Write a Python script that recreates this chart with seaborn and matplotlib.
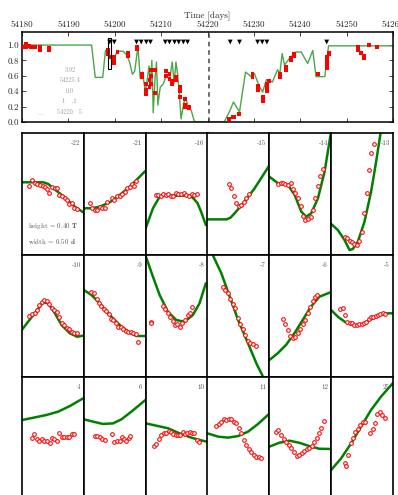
import matplotlib
matplotlib.use("Agg")
import matplotlib.pyplot as plt
from matplotlib.patches import Rectangle
import seaborn as sns

sns.set_style("white")
plt.rcParams["font.family"] = ["cmr10", "DejaVu Serif"]
plt.rcParams["mathtext.fontset"] = "cm"
plt.rcParams["axes.unicode_minus"] = False
plt.rcParams["axes.formatter.use_mathtext"] = True

# ---- light curve (top panel) ----
model_t = [54180.0, 54195.0, 54195.8, 54197.4, 54198.0, 54199.0, 54199.6, 54200.5,
           54201.8, 54202.5, 54203.2, 54203.8, 54204.3, 54205.0, 54205.5, 54206.0,
           54206.6, 54207.0, 54207.4, 54207.7, 54208.0, 54208.3, 54208.7, 54209.0,
           54209.3, 54209.8, 54210.5, 54211.2, 54211.8, 54212.4, 54212.8, 54213.2,
           54213.6, 54214.0, 54214.3, 54214.9, 54215.3, 54215.8, 54216.5, 54217.2,
           54223.6, 54224.7, 54225.6, 54226.9, 54228.2, 54229.4, 54230.1, 54231.2,
           54231.9, 54232.7, 54234.0, 54235.1, 54235.6, 54236.1, 54236.6, 54237.7,
           54239.1, 54240.2, 54241.6, 54242.7, 54243.4, 54245.3, 54246.1, 54260.0]
model_f = [1.0, 1.0, 0.58, 0.58, 0.93, 0.85, 0.78, 0.92,
           0.92, 0.88, 0.78, 0.62, 0.66, 0.98, 0.57, 0.65,
           0.38, 0.55, 0.73, 0.45, 0.80, 0.12, 0.58, 0.78,
           0.22, 0.45, 0.50, 0.62, 0.55, 0.78, 0.50, 0.78,
           0.60, 0.30, 0.04, 0.25, 0.32, 0.20, 0.15, 0.0,
           0.0, 0.13, 0.26, 0.13, 0.65, 0.59, 0.63, 0.46,
           0.39, 0.55, 0.52, 0.68, 0.63, 0.89, 0.74, 0.83,
           0.91, 0.91, 0.76, 0.93, 0.59, 0.59, 0.99, 0.99]

obs_t = [54180.2, 54180.9, 54180.9, 54181.5, 54182.0, 54182.8, 54183.9, 54183.9, 54185.9, 54185.9,
         54198.6, 54198.6, 54199.2, 54199.9, 54199.9, 54199.9, 54200.6, 54202.8, 54202.8,
         54204.8, 54204.8, 54205.8, 54205.8, 54206.8, 54206.8, 54206.8, 54207.5, 54207.5,
         54207.9, 54207.9, 54207.9, 54208.6, 54208.6, 54211.0, 54211.0, 54211.8, 54211.8,
         54212.4, 54212.4, 54213.3, 54213.3, 54214.0, 54214.0, 54214.0, 54215.1, 54215.1,
         54215.1, 54216.0, 54216.0, 54224.7, 54225.4, 54225.8, 54226.8, 54229.7, 54229.7,
         54230.8, 54230.8, 54231.9, 54231.9, 54232.8, 54232.8, 54232.8, 54233.2, 54235.7,
         54235.7, 54236.9, 54236.9, 54238.0, 54238.0, 54238.7, 54238.7, 54243.8, 54245.8,
         54245.8, 54245.8, 54245.8, 54246.1, 54246.1, 54252.5, 54252.5, 54253.0, 54253.7,
         54253.7, 54254.8, 54256.6]
obs_f = [0.98, 1.02, 0.97, 0.99, 0.97, 0.97, 0.97, 0.94, 0.96, 0.93,
         0.93, 0.88, 0.85, 0.80, 0.77, 0.84, 0.91, 0.90, 0.86,
         0.97, 0.95, 0.63, 0.58, 0.50, 0.42, 0.37, 0.55, 0.45,
         0.68, 0.60, 0.50, 0.68, 0.38, 0.66, 0.60, 0.63, 0.56,
         0.53, 0.50, 0.58, 0.55, 0.46, 0.40, 0.32, 0.30, 0.22,
         0.20, 0.18, 0.20, 0.04, 0.07, 0.06, 0.11, 0.62, 0.58,
         0.47, 0.42, 0.33, 0.27, 0.45, 0.40, 0.50, 0.53, 0.59,
         0.62, 0.68, 0.72, 0.80, 0.83, 0.86, 0.88, 0.63, 0.80,
         0.75, 0.70, 0.85, 0.90, 0.88, 0.97, 0.93, 0.90, 0.86,
         0.83, 1.00, 0.98]

alert_t = [54198.9, 54199.9, 54204.7, 54205.7, 54206.8, 54207.7, 54210.9, 54211.8,
           54212.9, 54213.8, 54214.8, 54215.7, 54224.9, 54226.9, 54230.8, 54231.8,
           54232.8, 54245.7]
alert_level = 1.04

box_t = [54198.6, 54199.2]
box_f = [0.69, 1.09]
peak_t = 54220.4

time_ticks = [54180, 54190, 54200, 54210, 54220, 54230, 54240, 54250, 54260]
flux_ticks = [0.0, 0.2, 0.4, 0.6, 0.8, 1.0]
fit_notes = ["3.92", "54225.4", "0.0", "1   .1", "54220.  5"]
fit_note_f = [0.67, 0.54, 0.40, 0.27, 0.13]

# ---- zoomed segments (local units 0-100) ----
labels = ["-22", "-21", "-16", "-15", "-14", "-13",
          "-10", "-9", "-8", "-7", "-6", "-5",
          "4", "6", "10", "11", "12", "25"]

line_m22 = [(0.5, 59.6), (34.4, 59.6), (42.5, 58.2), (50.5, 54.6), (61.3, 50.5), (72.0, 45.9), (85.5, 39.6), (98.9, 35.0)]
dots_m22 = [(11.8, 56.6), (16.1, 61.2), (20.4, 58.8), (24.7, 57.9), (29.0, 57.4), (33.3, 56.3), (36.6, 55.5),
            (40.3, 54.1), (44.1, 51.1), (48.4, 55.5), (52.7, 54.6), (57.0, 55.2), (60.2, 49.2), (64.5, 48.6),
            (68.8, 47.0), (72.0, 45.1), (76.3, 42.1), (80.1, 42.9), (83.9, 38.3), (88.2, 37.5)]

line_m21 = [(0, 38.3), (12.4, 38.3), (25.8, 39.6), (41.9, 43.2), (58.1, 49.2), (74.2, 56.0), (87.6, 62.8), (99.5, 68.9)]
dots_m21 = [(9.7, 42.4), (14.0, 38.8), (18.3, 37.1), (21.5, 36.9), (25.8, 39.6), (30.1, 38.3), (34.4, 38.8),
            (37.6, 43.2), (45.2, 46.5), (49.5, 45.1), (53.7, 48.1), (58.1, 48.6), (62.4, 50.2), (66.6, 51.9),
            (69.8, 55.2), (74.2, 55.7), (78.5, 58.0), (81.8, 56.8), (85.0, 60.7)]

line_m16 = [(0, 21.9), (11.8, 38.3), (22.6, 47.8), (30.0, 48.6), (72.0, 48.6), (78.0, 46.0), (84.0, 42.4), (90.0, 35.0), (97.3, 24.6)]
dots_m16 = [(16.1, 49.2), (20.5, 49.2), (24.7, 48.4), (27.9, 49.7), (32.3, 49.2), (36.6, 49.7), (40.8, 48.4),
            (44.1, 48.4), (48.4, 51.1), (52.7, 49.7), (56.9, 49.7), (61.3, 50.5), (65.6, 49.2), (69.8, 48.4),
            (74.2, 49.7), (78.5, 49.2), (82.7, 49.7)]

line_m15 = [(0, 29.2), (30.6, 29.2), (37.0, 30.5), (43.9, 34.2), (60.0, 43.7), (76.1, 54.6), (99.5, 73.0)]
dots_m15 = [(35.0, 58.4), (38.7, 54.6), (42.5, 48.6), (46.8, 42.4), (50.6, 40.4), (54.9, 41.0), (59.2, 43.7),
            (63.0, 47.0), (66.8, 50.0)]

line_m14 = [(0, 64.2), (14.0, 58.8), (30.2, 57.4), (41.0, 49.2), (51.7, 35.5), (59.7, 31.4), (67.8, 34.2),
            (78.6, 46.5), (89.4, 68.3), (99.0, 98.4)]
dots_m14 = [(14.0, 57.9), (18.3, 59.3), (22.1, 59.3), (25.8, 58.2), (30.2, 57.4), (34.5, 58.8), (38.2, 53.9),
            (41.9, 50.5), (46.3, 47.0), (50.6, 40.4), (54.4, 32.2), (58.1, 28.7), (62.4, 29.2), (66.8, 31.1),
            (70.5, 36.9), (74.2, 46.5), (78.6, 56.6), (82.3, 64.8), (86.2, 70.2)]

line_m13 = [(0, 25.4), (10.8, 20.5), (21.6, 12.3), (29.7, 4.1), (35.0, 4.9), (43.1, 10.9), (53.9, 27.3),
            (64.6, 51.9), (72.7, 76.5), (79.8, 99.7)]
dots_m13 = [(22.1, 15.0), (26.4, 14.2), (30.1, 11.5), (33.9, 10.4), (37.7, 9.0), (41.4, 8.2), (45.2, 11.7),
            (49.1, 19.1), (53.3, 34.2), (57.2, 50.5), (60.9, 69.7), (65.2, 83.6), (68.9, 90.7)]

line_m10 = [(0.5, 39.1), (18.2, 50.8), (34.4, 61.2), (42.4, 60.4), (53.2, 52.2), (64.0, 42.6), (77.4, 35.8),
            (89.2, 33.0), (98.9, 33.9)]
dots_m10 = [(11.8, 50.0), (16.1, 51.6), (20.5, 52.7), (24.2, 54.9), (27.9, 58.8), (31.8, 61.7), (35.5, 63.1),
            (40.3, 62.5), (44.0, 59.8), (47.9, 56.3), (51.6, 54.9), (56.0, 53.0), (59.7, 49.4), (64.0, 44.0),
            (68.2, 42.6), (72.1, 40.4), (76.3, 39.1), (80.2, 37.1), (84.4, 36.3), (88.2, 36.3)]

line_m9 = [(0, 71.3), (12.4, 67.2), (25.8, 60.4), (41.9, 50.8), (58.1, 42.6), (74.2, 36.3), (85.0, 33.6), (99.5, 33.6)]
dots_m9 = [(11.3, 69.9), (16.1, 69.1), (20.5, 64.2), (24.2, 60.9), (27.9, 58.2), (32.3, 56.0), (36.6, 54.3),
           (40.3, 51.6), (44.0, 47.8), (47.9, 46.7), (51.6, 44.0), (56.0, 41.2), (59.7, 41.2), (63.4, 39.1),
           (67.7, 37.7), (72.1, 37.1), (76.3, 37.1), (80.2, 35.8), (83.9, 35.0), (88.2, 28.9)]

line_m8 = [(0, 99.2), (11.8, 82.2), (22.6, 67.2), (36.0, 53.5), (49.5, 46.7), (62.9, 45.3), (76.3, 50.8),
           (87.1, 60.4), (97.3, 76.8)]
dots_m8 = [(8.1, 45.3), (8.1, 44.0), (27.9, 58.2), (31.8, 56.0), (36.0, 52.2), (39.8, 49.4), (43.5, 46.2),
           (47.3, 42.6), (51.1, 43.4), (54.8, 40.7), (59.2, 44.0), (63.4, 46.7), (67.7, 50.8), (71.5, 52.2),
           (75.3, 57.1)]

line_m7 = [(9.2, 99.2), (22.4, 85.0), (36.0, 65.8), (49.5, 46.7), (65.6, 27.6), (79.0, 11.2), (89.8, 0.2)]
dots_m7 = [(24.7, 73.5), (28.5, 71.3), (32.8, 69.1), (37.1, 63.7), (41.4, 59.8), (45.2, 56.3), (48.9, 48.1),
           (53.2, 43.4), (57.0, 39.1), (61.3, 34.4), (65.1, 29.5), (69.5, 28.1), (73.2, 27.0), (78.1, 25.7)]

line_m6 = [(0, 13.9), (13.4, 19.4), (26.9, 26.2), (40.5, 35.8), (53.9, 46.7), (67.3, 57.6), (80.9, 65.8), (98.7, 69.4)]
dots_m6 = [(21.5, 47.5), (25.8, 43.2), (29.6, 38.5), (33.9, 33.6), (37.6, 31.7), (41.3, 33.0), (45.6, 35.8),
           (49.4, 39.1), (53.7, 43.2), (57.5, 46.7), (61.8, 52.7), (66.2, 57.1), (69.9, 62.5), (73.6, 65.3),
           (77.4, 67.2)]

line_m5 = [(0, 54.9), (10.8, 49.4), (24.2, 44.5), (37.7, 42.4), (51.1, 43.4), (64.5, 47.3), (78.0, 50.8),
           (91.4, 52.2), (99.5, 52.2)]
dots_m5 = [(14.5, 55.5), (18.4, 56.6), (22.1, 50.8), (26.4, 44.8), (30.2, 44.5), (33.9, 44.3), (37.7, 42.6),
           (41.5, 42.6), (45.2, 43.2), (49.1, 43.2), (52.8, 44.5), (56.5, 45.3), (60.4, 47.5), (64.2, 48.9),
           (67.9, 48.9), (71.8, 50.0), (75.5, 50.5), (79.2, 51.6), (83.1, 52.7), (86.8, 51.4)]

line_p4 = [(0.5, 64.8), (18.2, 66.6), (39.8, 68.9), (58.5, 71.6), (77.4, 76.2), (98.9, 82.5)]
dots_p4 = [(16.1, 50.3), (19.8, 53.0), (24.2, 48.9), (27.9, 47.8), (32.3, 48.9), (35.9, 47.8), (40.3, 47.5),
           (44.7, 45.6), (48.4, 50.3), (52.1, 49.2), (56.5, 47.8), (60.2, 53.8), (64.5, 51.1), (68.2, 50.6),
           (72.1, 50.6), (76.3, 51.1), (80.2, 53.3), (83.9, 53.0)]

line_p6 = [(0, 65.3), (15.0, 63.4), (31.1, 61.5), (47.3, 62.0), (60.8, 65.3), (76.9, 71.6), (99.5, 81.1)]
dots_p6 = [(17.7, 51.9), (21.5, 51.9), (25.8, 51.1), (29.6, 49.4), (33.9, 48.4), (46.3, 53.0), (49.5, 47.0),
           (53.2, 47.8), (58.1, 47.8), (61.8, 50.6), (65.6, 49.2), (68.9, 47.8), (72.6, 49.7), (74.2, 51.6)]

line_p10 = [(0, 62.0), (17.2, 60.1), (36.0, 58.0), (54.8, 53.8), (73.7, 50.3), (87.1, 48.4), (98.9, 47.0)]
dots_p10 = [(13.4, 43.4), (17.2, 45.1), (21.5, 48.9), (25.3, 52.5), (29.6, 53.8), (33.4, 53.8), (37.1, 56.0),
            (40.8, 54.9), (44.7, 53.0), (48.4, 52.2), (52.1, 52.5), (56.0, 52.2), (59.7, 54.6), (63.4, 53.3),
            (67.3, 53.8), (71.0, 55.2), (74.7, 54.3), (78.5, 54.3), (83.4, 48.4), (85.5, 47.0)]

line_p11 = [(0, 53.8), (17.3, 51.1), (33.1, 50.3), (49.5, 51.6), (65.6, 55.2), (81.7, 61.5), (99.5, 69.7)]
dots_p11 = [(14.5, 59.8), (18.4, 61.5), (22.6, 63.4), (26.5, 65.3), (30.7, 64.8), (34.5, 65.3), (38.7, 65.6),
            (42.6, 63.4), (46.8, 62.5), (50.6, 57.9), (54.8, 53.8), (58.7, 48.4), (62.9, 44.3), (66.8, 40.7),
            (71.0, 38.8), (74.8, 36.1), (79.1, 34.7), (82.9, 34.2), (86.6, 33.3)]

line_p12 = [(0, 42.9), (16.1, 46.1), (32.3, 47.8), (48.4, 46.1), (64.5, 43.4), (80.6, 41.2), (98.4, 41.0)]
dots_p12 = [(10.8, 55.2), (14.6, 56.6), (18.8, 52.5), (23.2, 49.2), (26.9, 47.0), (31.3, 44.3), (35.6, 41.6),
            (39.8, 38.8), (44.2, 35.2), (48.6, 36.3), (52.3, 38.0), (56.6, 39.1), (60.8, 40.7), (64.7, 41.8),
            (69.0, 43.4), (72.8, 47.0), (76.6, 50.3), (80.3, 53.8), (84.2, 58.4), (87.9, 64.2)]

line_p25 = [(0, 23.8), (16.1, 33.3), (32.3, 45.6), (48.4, 59.3), (64.5, 73.0), (80.6, 83.9), (99.5, 94.8)]
dots_p25 = [(22.6, 29.3), (23.2, 27.3), (27.4, 36.1), (31.3, 46.1), (35.5, 50.3), (39.3, 54.9), (43.1, 57.1),
            (46.8, 60.7), (50.7, 62.9), (54.4, 63.4), (63.6, 54.3), (67.3, 57.4), (71.1, 62.5), (74.9, 69.4),
            (79.1, 71.3), (83.0, 68.6), (86.7, 66.1)]

lines = [line_m22, line_m21, line_m16, line_m15, line_m14, line_m13,
         line_m10, line_m9, line_m8, line_m7, line_m6, line_m5,
         line_p4, line_p6, line_p10, line_p11, line_p12, line_p25]
dots = [dots_m22, dots_m21, dots_m16, dots_m15, dots_m14, dots_m13,
        dots_m10, dots_m9, dots_m8, dots_m7, dots_m6, dots_m5,
        dots_p4, dots_p6, dots_p10, dots_p11, dots_p12, dots_p25]

W, H = 398, 495
fig = plt.figure(figsize=(W / 100, H / 100), dpi=100)


def px_axes(left, top, right, bottom):
    return fig.add_axes([left / W, 1 - bottom / H, (right - left) / W, (bottom - top) / H])


# top panel
ax = px_axes(22, 32, 393, 122)
sns.lineplot(x=model_t, y=model_f, ax=ax, color="#4aa74a", lw=1.0, sort=False, estimator=None)
sns.scatterplot(x=obs_t, y=obs_f, ax=ax, marker="s", s=8, color="red", edgecolor="none", zorder=3)
sns.scatterplot(x=alert_t, y=[alert_level] * len(alert_t), ax=ax, marker="v", s=12,
                color="black", edgecolor="none", zorder=4)
ax.add_patch(Rectangle((box_t[0], box_f[0]), box_t[1] - box_t[0], box_f[1] - box_f[0],
                       fill=False, edgecolor="black", lw=0.8, zorder=5))
ax.axvline(peak_t, color="#444444", ls=(0, (3, 2.5)), lw=1.1)
for note, f in zip(fit_notes, fit_note_f):
    ax.text(54190.3, f, note, fontsize=4.5, color="#9a9a9a", ha="center", va="center")
ax.text(54184.0, 0.10, "|", fontsize=4, color="#9a9a9a", ha="center", va="center")
ax.set_xlim(54180, 54260)
ax.set_ylim(0, 1.17)
ax.set_xticks(time_ticks)
ax.set_xticklabels([str(t) for t in time_ticks])
ax.set_yticks(flux_ticks)
ax.set_yticklabels([f"{v:.1f}" for v in flux_ticks])
ax.xaxis.tick_top()
ax.xaxis.set_label_position("top")
ax.set_xlabel("Time [days]", fontsize=6.5, labelpad=2)
ax.tick_params(axis="both", direction="in", labelsize=6.5, length=3, width=0.6, pad=2,
               top=True, bottom=True, left=True, right=True)
for s in ax.spines.values():
    s.set_linewidth(1.1)
    s.set_color("black")

# grid of zoomed segments
col_w = (393 - 22) / 6
for i, (lab, ln, dt) in enumerate(zip(labels, lines, dots)):
    r, c = divmod(i, 6)
    left = 22 + c * col_w
    top = 133 + r * 122
    sub = px_axes(left, top, left + col_w, top + 122)
    sns.lineplot(x=[p[0] for p in ln], y=[p[1] for p in ln], ax=sub, color="green", lw=1.8,
                 sort=False, estimator=None)
    sns.scatterplot(x=[p[0] for p in dt], y=[p[1] for p in dt], ax=sub, marker="o", s=7,
                    color="white", edgecolor="red", linewidth=0.75, zorder=3)
    sub.set_xlim(0, 100)
    sub.set_ylim(0, 100)
    sub.set_xticks([])
    sub.set_yticks([])
    sub.set_xlabel("")
    sub.set_ylabel("")
    for s in sub.spines.values():
        s.set_linewidth(1.2)
        s.set_color("black")
    sub.text(95, 91.5, lab, fontsize=5, color="#555555", ha="right", va="center")
    if i == 0:
        sub.text(10, 24, r"height = 0.40 $\mathbf{T}$", fontsize=5, color="#555555", va="center")
        sub.text(10, 11, r"width = 0.50 $\mathbf{d}$", fontsize=5, color="#555555", va="center")

fig.savefig("out.png", dpi=100)
